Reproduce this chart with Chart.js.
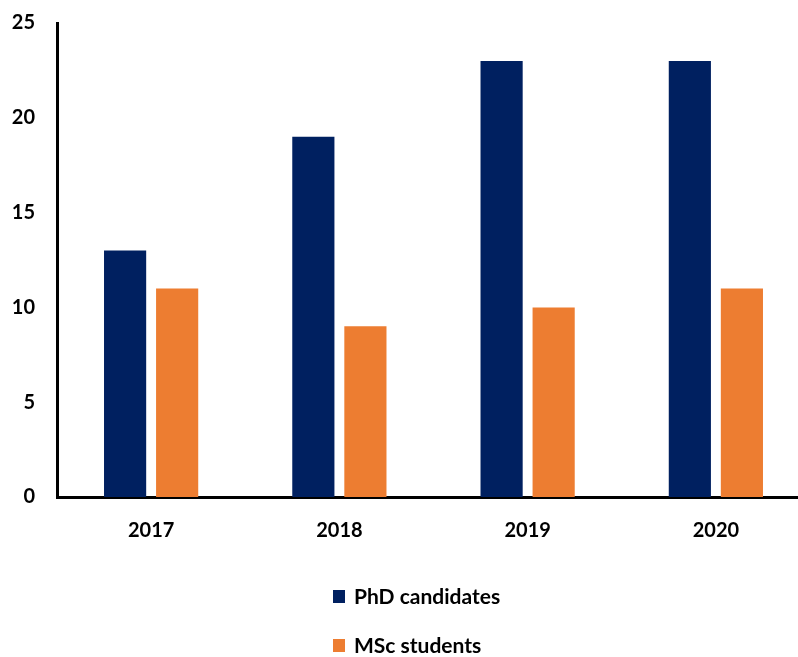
<!DOCTYPE html>
<html>
<head>
<meta charset="utf-8">
<script src="https://cdn.jsdelivr.net/npm/chart.js@4/dist/chart.umd.min.js"></script>
<style>
  html, body { margin: 0; padding: 0; background: #fff; overflow: hidden; }
  #wrap { position: relative; width: 812px; height: 657px; }
  #legend { position: absolute; left: 333px; top: 583px; font-family: Lato, sans-serif; font-weight: bold; font-size: 21px; color: #000; }
  .item { height: 49px; display: flex; align-items: flex-start; }
  .box { width: 12px; height: 13px; margin-top: 7px; margin-right: 9px; }
</style>
</head>
<body>
<div id="wrap">
  <canvas id="chart" width="812" height="657"></canvas>
  <div id="legend"></div>
</div>
<script>
var years = ['2017', '2018', '2019', '2020'];
var phd = [13, 19, 23, 23];
var msc = [11, 9, 10, 11];
var seriesNames = ['PhD candidates', 'MSc students'];
var colors = ['#002060', '#ED7D31'];

var tickFont = { family: 'Lato', weight: 'bold', size: 20 };

var ctx = document.getElementById('chart').getContext('2d');
var chart = new Chart(ctx, {
	type: 'bar',
	data: {
		labels: years,
		datasets: [
			{ label: seriesNames[0], data: phd, backgroundColor: colors[0] },
			{ label: seriesNames[1], data: msc, backgroundColor: colors[1] }
		]
	},
	options: {
		responsive: false,
		animation: false,
		layout: { padding: { left: 0, right: 2, top: 23, bottom: 0 } },
		datasets: { bar: { categoryPercentage: 0.553, barPercentage: 0.81 } },
		plugins: { legend: { display: false }, tooltip: { enabled: false } },
		scales: {
			x: {
				grid: { display: false, drawTicks: false },
				border: { color: '#000', width: 3 },
				ticks: { color: '#000', font: tickFont, padding: 22 },
				afterFit: function(scale){ scale.height = 160; scale.paddingLeft = 0; scale.paddingRight = 0; }
			},
			y: {
				min: 0, max: 25,
				grid: { display: false, drawTicks: false },
				border: { color: '#000', width: 3 },
				ticks: { color: '#000', font: tickFont, stepSize: 5, padding: 22 },
				afterFit: function(scale){ scale.width = 57; scale.paddingTop = 0; scale.paddingBottom = 0; }
			}
		}
	}
});

// legend as html, one row per series
var legend = document.getElementById('legend');
chart.data.datasets.forEach(function(ds){
	var row = document.createElement('div');
	row.className = 'item';
	var box = document.createElement('span');
	box.className = 'box';
	box.style.background = ds.backgroundColor;
	var txt = document.createElement('span');
	txt.textContent = ds.label;
	row.appendChild(box);
	row.appendChild(txt);
	legend.appendChild(row);
});
</script>
</body>
</html>
